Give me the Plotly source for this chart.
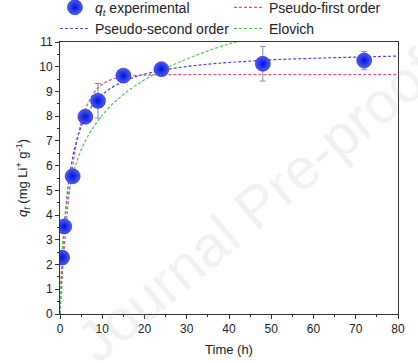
import plotly.graph_objects as go

# Experimental data
t_exp = [0.5, 1, 3, 6, 9, 15, 24, 48, 72]
q_exp = [2.28, 3.54, 5.57, 7.98, 8.62, 9.64, 9.90, 10.12, 10.25]
q_err = [0, 0, 0, 0, 0.70, 0, 0.08, 0.70, 0.37]

# Model curves
t_fit = [0, 0.25, 0.5, 1, 1.5, 2, 3, 4, 5, 6, 7, 8, 9, 10, 12, 14, 16, 18, 20,
         24, 28, 32, 36, 40, 50, 60, 70, 80]
q_pfo = [0, 0.74, 1.43, 2.65, 3.69, 4.58, 5.97, 6.99, 7.73, 8.26, 8.65, 8.93, 9.14, 9.29,
         9.47, 9.57, 9.62, 9.65, 9.66, 9.68, 9.68, 9.68, 9.68, 9.68, 9.68, 9.68, 9.68, 9.68]
q_pso = [0, 1.15, 2.08, 3.49, 4.50, 5.26, 6.33, 7.05, 7.57, 7.96, 8.26, 8.50, 8.70, 8.87,
         9.13, 9.32, 9.48, 9.60, 9.70, 9.85, 9.96, 10.05, 10.12, 10.17, 10.28, 10.34, 10.39, 10.43]
t_elo = [0, 0.1, 0.25, 0.5, 1, 1.5, 2, 3, 4, 5, 6, 7, 8, 9, 10, 12, 14, 16, 18, 20,
         24, 28, 32, 36, 40, 42]
q_elo = [0, 0.78, 1.58, 2.48, 3.58, 4.30, 4.84, 5.62, 6.18, 6.63, 7.00, 7.31, 7.58, 7.82,
         8.04, 8.42, 8.73, 9.01, 9.25, 9.47, 9.85, 10.17, 10.45, 10.70, 10.92, 11.02]

FONT = "Liberation Sans, Arial, sans-serif"

fig = go.Figure()
fig.add_trace(go.Scatter(
    x=t_fit, y=q_pfo, mode="lines", name="Pseudo-first order",
    legend="legend2", legendrank=1,
    line=dict(color="#e0508a", width=1.2, dash="3px,2px", shape="spline"),
))
fig.add_trace(go.Scatter(
    x=t_fit, y=q_pso, mode="lines", name="Pseudo-second order",
    legend="legend", legendrank=2,
    line=dict(color="#4a4ad8", width=1.2, dash="3px,2px", shape="spline"),
))
fig.add_trace(go.Scatter(
    x=t_elo, y=q_elo, mode="lines", name="Elovich",
    legend="legend2", legendrank=2,
    line=dict(color="#50c850", width=1.2, dash="3px,2px", shape="spline"),
))
fig.add_trace(go.Scatter(
    x=t_exp, y=q_exp, mode="markers", name="<i>q<sub>t</sub></i> experimental",
    legend="legend", legendrank=1,
    error_y=dict(type="data", array=q_err, visible=True, color="#7a8cc0",
                 thickness=1, width=3),
    marker=dict(size=15, color="#4a5cff",
                gradient=dict(type="radial", color="#0610d0"),
                line=dict(width=0.5, color="#0a10a0")),
))

fig.add_annotation(
    text="Journal Pre-proof", x=0.58, y=0.40, xref="paper", yref="paper",
    showarrow=False, textangle=-40,
    font=dict(family=FONT, size=58, color="rgba(170,170,170,0.16)"),
)

legend_common = dict(orientation="v", xanchor="left", yref="paper",
                     y=1.185, yanchor="top", traceorder="normal",
                     font=dict(family=FONT, size=14, color="#222"),
                     itemwidth=30, tracegroupgap=0, bgcolor="rgba(0,0,0,0)")

fig.update_layout(
    width=418, height=363,
    margin=dict(l=60, r=20, t=42, b=49, autoexpand=False),
    paper_bgcolor="white", plot_bgcolor="white",
    font=dict(family=FONT, size=12, color="#222"),
    showlegend=True,
    legend=dict(x=-0.015, **legend_common),
    legend2=dict(x=0.50, **legend_common),
    xaxis=dict(range=[0, 80], tickvals=[0, 10, 20, 30, 40, 50, 60, 70, 80],
               ticks="outside", ticklen=4, tickcolor="#333", automargin=False,
               minor=dict(dtick=5, ticks="outside", ticklen=2, tickcolor="#333"),
               showline=True, linecolor="#333", linewidth=1, mirror=True,
               showgrid=False, zeroline=False,
               tickfont=dict(size=12),
               title=dict(text="Time (h)", font=dict(size=13), standoff=9)),
    yaxis=dict(range=[0, 11], dtick=1,
               ticks="outside", ticklen=4, tickcolor="#333", automargin=False,
               minor=dict(dtick=0.5, ticks="outside", ticklen=2, tickcolor="#333"),
               showline=True, linecolor="#333", linewidth=1, mirror=True,
               showgrid=False, zeroline=False,
               tickfont=dict(size=12),
               title=dict(text="<i>q<sub>t</sub></i> (mg Li<sup>+</sup> g<sup>-1</sup>)",
                          font=dict(size=13), standoff=8)),
)

fig.write_html("out.html", config={"displayModeBar": False},
               post_script="document.body.style.margin='0';")
